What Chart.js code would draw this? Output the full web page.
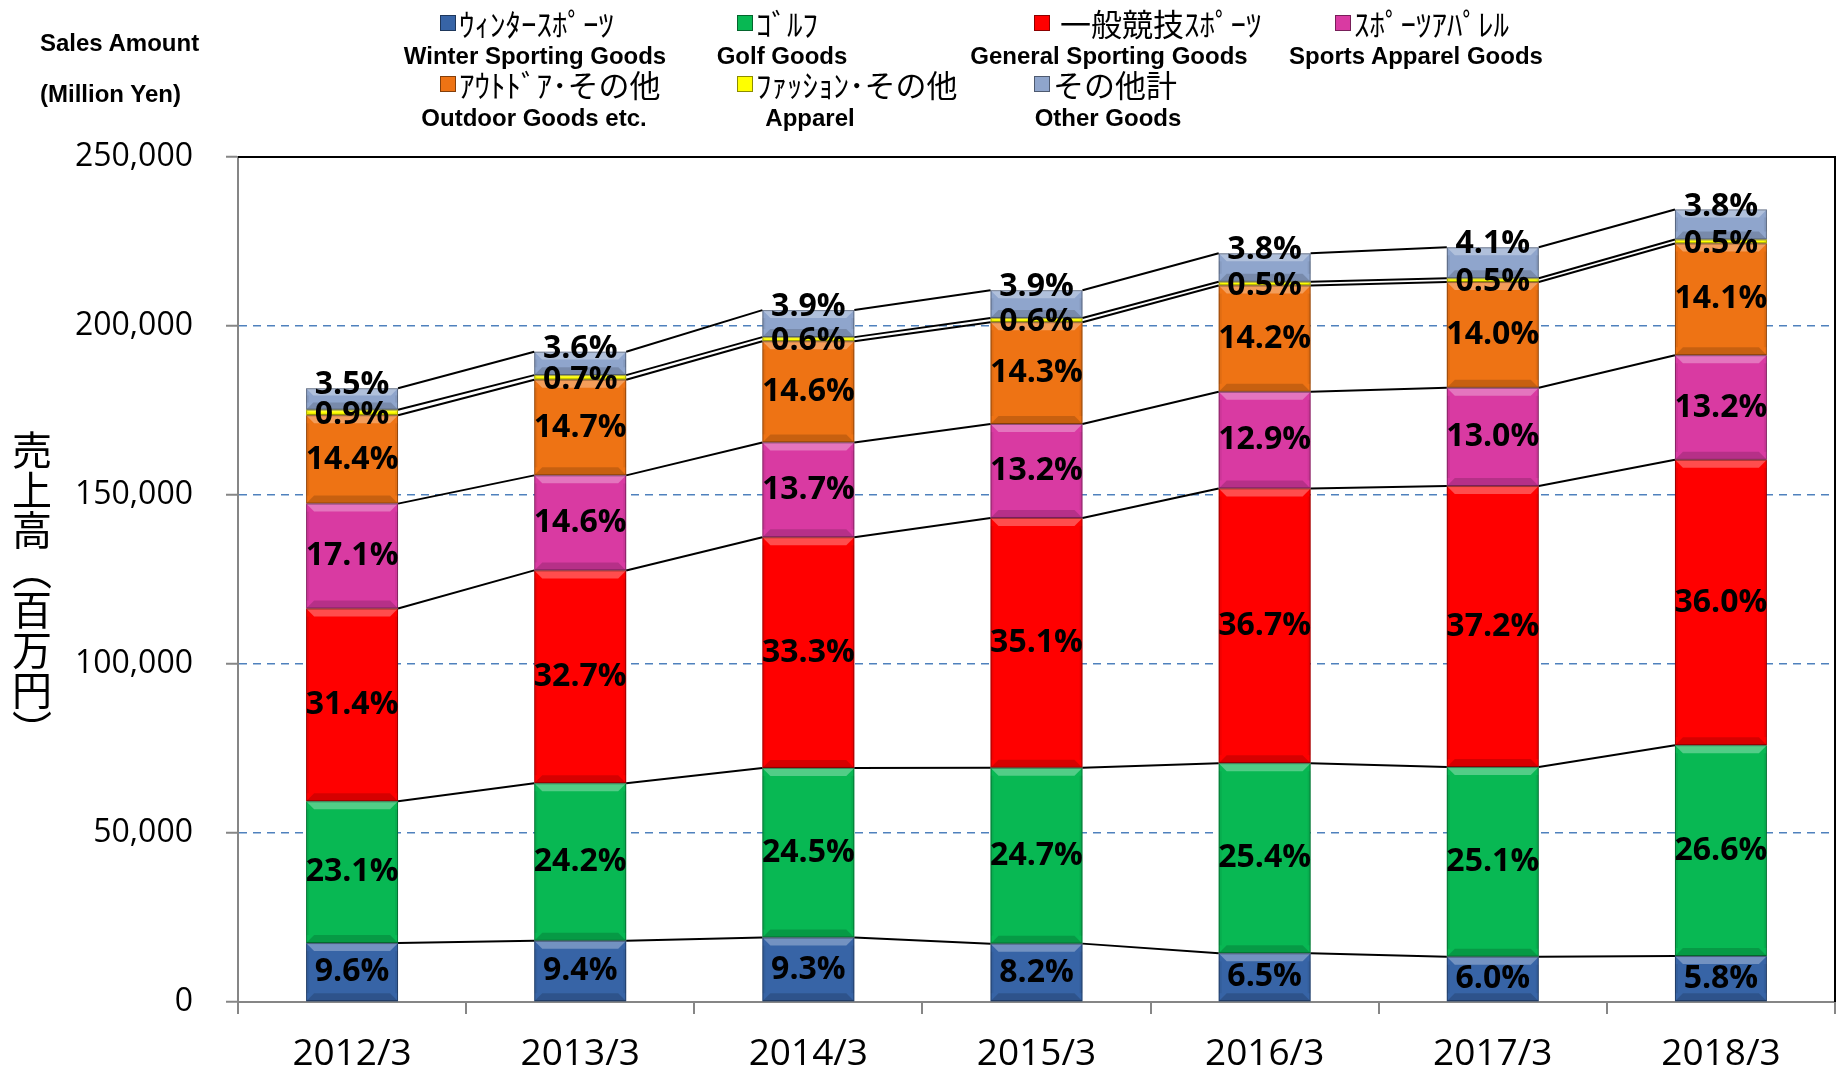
<!DOCTYPE html>
<html lang="ja">
<head>
<meta charset="UTF-8">
<title>売上高（百万円）</title>
<script src="https://cdn.jsdelivr.net/npm/chart.js@4.4.0/dist/chart.umd.min.js"></script>
<style>
  body { margin: 0; background: #fff; }
  .wrap { position: relative; width: 1839px; height: 1081px; overflow: hidden; }
  #chart { position: absolute; left: 0; top: 0; }
  .unit { position: absolute; left: 40px; font: bold 24px 'Liberation Sans', Arial, sans-serif; color: #000; line-height: 1; }
  .ytitle { position: absolute; left: 12px; top: 430px; writing-mode: vertical-rl;
            font: 40px 'Noto Sans CJK JP', sans-serif; line-height: 1; color: #000; }
  .lg-ja { position: absolute; font: 31px 'Noto Sans CJK JP', sans-serif; white-space: pre; line-height: 1;
           display: flex; align-items: center; color: #000; }
  .lg-ja i { display: inline-block; width: 14px; height: 14px; margin-right: 3px; border: 1px solid rgba(0,0,0,.45); }
  .lg-en { position: absolute; font: bold 24px 'Liberation Sans', Arial, sans-serif; transform: translateX(-50%);
           white-space: nowrap; line-height: 1; color: #000; }
</style>
</head>
<body>
<div class="wrap" id="wrap">
  <canvas id="chart" width="1839" height="1081"></canvas>
  <div class="unit" style="top:31px">Sales Amount</div>
  <div class="unit" style="top:82px">(Million Yen)</div>
  <div class="ytitle">売上高（百万円）</div>
</div>
<script>
// 年度（3月期）
var categories = ['2012/3', '2013/3', '2014/3', '2015/3', '2016/3', '2017/3', '2018/3'];

// 売上高（百万円）
var winter  = [17430, 18100, 19060, 17270, 14400, 13410, 13600];
var golf    = [41950, 46610, 50200, 52020, 56260, 56100, 62380];
var general = [57020, 62980, 68230, 73920, 81290, 83140, 84420];
var apparel = [31050, 28120, 28070, 27800, 28570, 29060, 30950];
var outdoor = [26150, 28310, 29920, 30120, 31450, 31290, 33060];
var fashion = [1630, 1350, 1230, 1260, 1110, 1120, 1170];
var other   = [6360, 6930, 7990, 8210, 8420, 9160, 8910];

// 構成比（%）
var winterPct  = [9.6, 9.4, 9.3, 8.2, 6.5, 6.0, 5.8];
var golfPct    = [23.1, 24.2, 24.5, 24.7, 25.4, 25.1, 26.6];
var generalPct = [31.4, 32.7, 33.3, 35.1, 36.7, 37.2, 36.0];
var apparelPct = [17.1, 14.6, 13.7, 13.2, 12.9, 13.0, 13.2];
var outdoorPct = [14.4, 14.7, 14.6, 14.3, 14.2, 14.0, 14.1];
var fashionPct = [0.9, 0.7, 0.6, 0.6, 0.5, 0.5, 0.5];
var otherPct   = [3.5, 3.6, 3.9, 3.9, 3.8, 4.1, 3.8];

// 凡例
var namesJa = ['ｳｨﾝﾀｰｽﾎﾟｰﾂ', 'ｺﾞﾙﾌ', ' 一般競技ｽﾎﾟｰﾂ', 'ｽﾎﾟｰﾂｱﾊﾟﾚﾙ', 'ｱｳﾄﾄﾞｱ･その他', 'ﾌｧｯｼｮﾝ･その他', 'その他計'];
var namesEn = ['Winter Sporting Goods', 'Golf Goods', 'General Sporting Goods', 'Sports Apparel Goods',
               'Outdoor Goods etc.', 'Apparel', 'Other Goods'];

var yTicks = [0, 50000, 100000, 150000, 200000, 250000];

// 色
var colors = ['#3764A6', '#08B853', '#FF0000', '#D93AA2', '#EE7314', '#FFFF00', '#8FA5CC'];

// 凡例の配置（x: 四角の左端, en: 英語の中心, row: 段）
var legendPos = [
  { x: 440, en: 535, row: 0 }, { x: 737, en: 782, row: 0 }, { x: 1034, en: 1109, row: 0 }, { x: 1335, en: 1416, row: 0 },
  { x: 440, en: 534, row: 1 }, { x: 737, en: 810, row: 1 }, { x: 1034, en: 1108, row: 1 }
];
var rowJaTop = [7, 68];
var rowEnTop = [44, 106];

var wrap = document.getElementById('wrap');
namesJa.forEach(function (name, i) {
  var p = legendPos[i];
  var ja = document.createElement('div');
  ja.className = 'lg-ja';
  ja.style.left = p.x + 'px';
  ja.style.top = rowJaTop[p.row] + 'px';
  ja.innerHTML = '<i style="background:linear-gradient(' + colors[i] + ',' + colors[i] + ')"></i>';
  ja.appendChild(document.createTextNode(name));
  wrap.appendChild(ja);
  var en = document.createElement('div');
  en.className = 'lg-en';
  en.style.left = p.en + 'px';
  en.style.top = rowEnTop[p.row] + 'px';
  en.textContent = namesEn[i];
  wrap.appendChild(en);
});

var series = [winter, golf, general, apparel, outdoor, fashion, other];
var pcts = [winterPct, golfPct, generalPct, apparelPct, outdoorPct, fashionPct, otherPct];

// 立体風の縁取り、つなぎ線、構成比ラベル
var decorPlugin = {
  id: 'decor',
  afterDatasetsDraw: function (chart) {
    var ctx = chart.ctx;
    var metas = chart.data.datasets.map(function (d, i) { return chart.getDatasetMeta(i); });
    ctx.save();
    // bevel
    metas.forEach(function (meta) {
      meta.data.forEach(function (el) {
        var x0 = el.x - el.width / 2, x1 = el.x + el.width / 2;
        var top = Math.min(el.y, el.base), bot = Math.max(el.y, el.base);
        var h = bot - top;
        var b = Math.min(8, h / 3);
        ctx.fillStyle = 'rgba(255,255,255,0.30)';
        ctx.beginPath();
        ctx.moveTo(x0, top); ctx.lineTo(x1, top); ctx.lineTo(x1 - b, top + b); ctx.lineTo(x0 + b, top + b);
        ctx.closePath(); ctx.fill();
        ctx.fillStyle = 'rgba(0,0,0,0.16)';
        ctx.beginPath();
        ctx.moveTo(x0, bot); ctx.lineTo(x1, bot); ctx.lineTo(x1 - b, bot - b); ctx.lineTo(x0 + b, bot - b);
        ctx.closePath(); ctx.fill();
        ctx.fillStyle = 'rgba(0,0,0,0.06)';
        ctx.fillRect(x0, top + b, 3, h - 2 * b);
        ctx.fillRect(x1 - 3, top + b, 3, h - 2 * b);
        ctx.strokeStyle = 'rgba(0,0,0,0.35)';
        ctx.lineWidth = 1;
        ctx.strokeRect(x0 + 0.5, top + 0.5, el.width - 1, h - 1);
      });
    });
    // connector lines
    ctx.strokeStyle = '#000';
    ctx.lineWidth = 2;
    metas.forEach(function (meta) {
      for (var i = 0; i < meta.data.length - 1; i++) {
        var a = meta.data[i], b2 = meta.data[i + 1];
        ctx.beginPath();
        ctx.moveTo(a.x + a.width / 2, a.y);
        ctx.lineTo(b2.x - b2.width / 2, b2.y);
        ctx.stroke();
      }
    });
    // labels
    ctx.fillStyle = '#000';
    ctx.font = 'bold 32px "Open Sans", sans-serif';
    ctx.textAlign = 'center';
    ctx.textBaseline = 'middle';
    metas.forEach(function (meta, d) {
      meta.data.forEach(function (el, i) {
        var y = (el.y + el.base) / 2;
        if (d === 5) y += 2;
        if (d === 6) y = el.y - 3;
        ctx.fillText(pcts[d][i].toFixed(1) + '%', el.x, y);
      });
    });
    // frame top/right
    var area = chart.chartArea;
    ctx.strokeStyle = '#000';
    ctx.lineWidth = 2;
    ctx.beginPath();
    ctx.moveTo(area.left, area.top);
    ctx.lineTo(area.right, area.top);
    ctx.lineTo(area.right, area.bottom);
    ctx.stroke();
    ctx.restore();
  }
};

new Chart(document.getElementById('chart'), {
  type: 'bar',
  data: {
    labels: categories,
    datasets: series.map(function (s, i) {
      return {
        label: namesEn[i],
        data: s,
        backgroundColor: colors[i],
        borderWidth: 0,
        barPercentage: 0.403,
        categoryPercentage: 1
      };
    })
  },
  options: {
    responsive: false,
    devicePixelRatio: 1,
    animation: false,
    layout: { padding: { left: 0, top: 157, right: 4, bottom: 0 } },
    plugins: { legend: { display: false }, tooltip: { enabled: false } },
    scales: {
      x: {
        stacked: true,
        afterFit: function (scale) { scale.height = 79; },
        grid: { display: true, drawOnChartArea: false, offset: true, tickLength: 12, color: '#868686', lineWidth: 2 },
        border: { color: '#868686', width: 2 },
        ticks: { color: '#000', padding: 18, font: { family: 'Open Sans', size: 37 } }
      },
      y: {
        stacked: true,
        min: 0,
        max: 250000,
        afterFit: function (scale) { scale.width = 238; },
        afterBuildTicks: function (scale) { scale.ticks = yTicks.map(function (v) { return { value: v }; }); },
        grid: {
          color: function (c) { return (c.tick && (c.tick.value === 0 || c.tick.value === 250000)) ? 'rgba(0,0,0,0)' : '#4F81BD'; },
          lineWidth: 1.5,
          tickColor: '#868686',
          tickWidth: 2,
          tickLength: 12
        },
        border: { color: '#868686', width: 2, dash: [8, 6] },
        ticks: {
          color: '#000',
          padding: 33,
          font: { family: 'Open Sans', size: 32 },
          callback: function (v) { return Number(v).toLocaleString('en-US'); }
        }
      }
    }
  },
  plugins: [decorPlugin]
});
</script>
</body>
</html>
